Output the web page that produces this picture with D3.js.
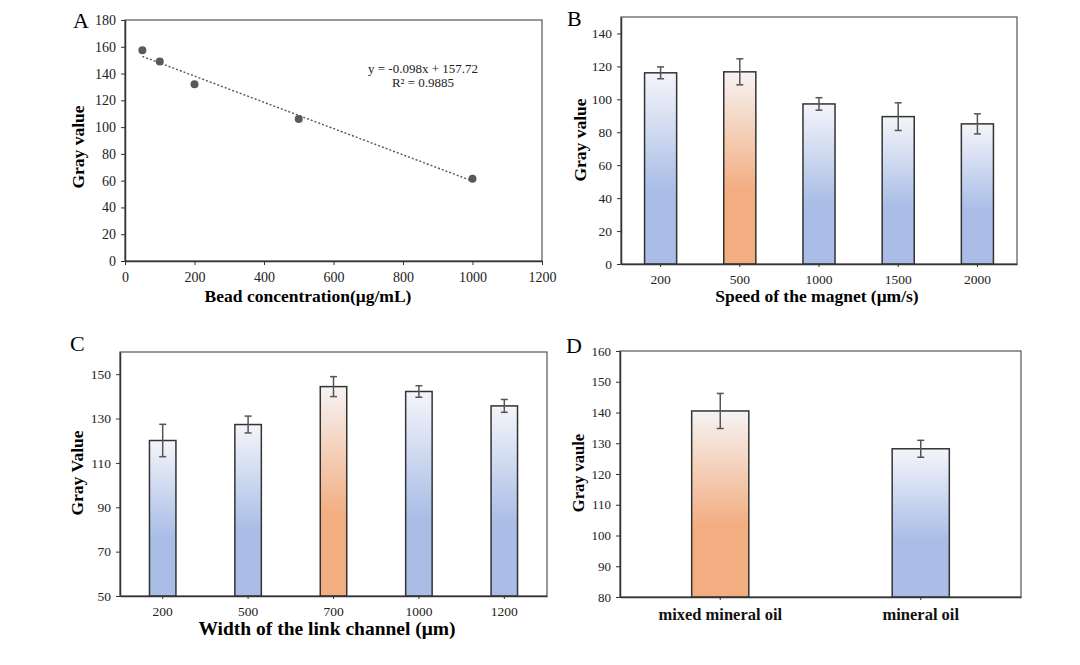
<!DOCTYPE html>
<html>
<head>
<meta charset="utf-8">
<script src="https://cdn.jsdelivr.net/npm/d3@7"></script>
<style>
  body { margin: 0; background: #fff; }
  text { font-family: "Liberation Serif", "Times New Roman", serif; }
</style>
</head>
<body>
<div id="chart"></div>
<script>
// Panel A: bead concentration scatter + linear fit
const beadConc = [50, 100, 200, 500, 1000];
const beadGray = [157.5, 149, 132, 106, 61.5];
const trendSlope = -0.098, trendIntercept = 157.72;
const trendLabel = "y = -0.098x + 157.72";
const r2Label = "R² = 0.9885";

// Panel B: magnet speed
const speedCats = ["200", "500", "1000", "1500", "2000"];
const speedGray = [116.1, 116.7, 97.2, 89.5, 85.1];
const speedErr = [3.6, 7.9, 3.8, 8.4, 6.1];
const speedHighlight = [false, true, false, false, false];

// Panel C: link channel width
const widthCats = ["200", "500", "700", "1000", "1200"];
const widthGray = [120.1, 127.3, 144.4, 142.2, 135.7];
const widthErr = [7.3, 3.8, 4.5, 2.6, 2.9];
const widthHighlight = [false, false, true, false, false];

// Panel D: oil type
const oilCats = ["mixed mineral oil", "mineral oil"];
const oilGray = [140.5, 128.2];
const oilErr = [5.7, 2.75];
const oilHighlight = [true, false];

const W = 1080, H = 665;
const svg = d3.select("#chart").append("svg")
  .attr("width", W).attr("height", H)
  .style("background", "#fff");

// gradients for bars
const defs = svg.append("defs");
function grad(id, top, mid) {
  const g = defs.append("linearGradient").attr("id", id)
    .attr("x1", 0).attr("y1", 0).attr("x2", 0).attr("y2", 1);
  g.append("stop").attr("offset", "0%").attr("stop-color", top);
  g.append("stop").attr("offset", "62%").attr("stop-color", mid);
  g.append("stop").attr("offset", "100%").attr("stop-color", mid);
}
grad("blueGrad", "#f4f5fa", "#a9bde6");
grad("orangeGrad", "#f6f3f3", "#f2ad80");

function frame(g, box) {
  g.append("rect")
    .attr("x", box.left).attr("y", box.top)
    .attr("width", box.right - box.left).attr("height", box.bottom - box.top)
    .attr("fill", "none").attr("stroke", "#555").attr("stroke-width", 1.2);
}

function styleAxis(sel, size) {
  sel.attr("font-size", size).attr("font-family", null);
  sel.selectAll("text").attr("font-size", size).attr("fill", "#222");
  sel.selectAll("line").attr("stroke", "#333");
  sel.select(".domain").attr("stroke", "#333").attr("stroke-width", 1.5);
}

// ---------- Panel A ----------
(function () {
  const box = { left: 125, top: 20, right: 542, bottom: 261 };
  const g = svg.append("g");
  const x = d3.scaleLinear().domain([0, 1200]).range([box.left, box.right]);
  const y = d3.scaleLinear().domain([0, 180]).range([box.bottom, box.top]);

  frame(g, box);

  g.append("g").attr("transform", `translate(0,${box.bottom})`)
    .call(d3.axisBottom(x).tickValues(d3.range(0, 1201, 200)).tickFormat(d3.format("d"))
      .tickSize(4).tickPadding(7).tickSizeOuter(0))
    .call(s => styleAxis(s, 14));
  g.append("g").attr("transform", `translate(${box.left},0)`)
    .call(d3.axisLeft(y).tickValues(d3.range(0, 181, 20)).tickSize(4).tickPadding(5).tickSizeOuter(0))
    .call(s => styleAxis(s, 14));

  // fit line
  const x0 = d3.min(beadConc), x1 = d3.max(beadConc);
  g.append("line")
    .attr("x1", x(x0)).attr("y1", y(trendSlope * x0 + trendIntercept))
    .attr("x2", x(x1)).attr("y2", y(trendSlope * x1 + trendIntercept))
    .attr("stroke", "#555").attr("stroke-width", 1.4).attr("stroke-dasharray", "2,2");

  g.selectAll("circle").data(beadConc).join("circle")
    .attr("cx", d => x(d)).attr("cy", (d, i) => y(beadGray[i]))
    .attr("r", 4).attr("fill", "#595959");

  g.append("text").attr("x", 423).attr("y", 73).attr("text-anchor", "middle")
    .attr("font-size", 13).attr("fill", "#222").text(trendLabel);
  g.append("text").attr("x", 423).attr("y", 87).attr("text-anchor", "middle")
    .attr("font-size", 13).attr("fill", "#222").text(r2Label);

  g.append("text").attr("x", 308).attr("y", 302).attr("text-anchor", "middle")
    .attr("font-size", 17.5).attr("font-weight", "bold").text("Bead concentration(μg/mL)");
  g.append("text").attr("transform", `translate(84,147) rotate(-90)`)
    .attr("text-anchor", "middle").attr("font-size", 17.5).attr("font-weight", "bold")
    .text("Gray value");
  g.append("text").attr("x", 73).attr("y", 28).attr("font-size", 22).text("A");
})();

// ---------- bar panel helper ----------
function barPanel(opt) {
  const box = opt.box;
  const g = svg.append("g");
  const x = d3.scaleBand().domain(opt.cats).range([box.left, box.right]).padding(0);
  const y = d3.scaleLinear().domain(opt.domain).range([box.bottom, box.top]);
  const bw = x.bandwidth() * opt.barFrac;

  frame(g, box);

  g.selectAll("rect.bar").data(opt.cats).join("rect")
    .attr("class", "bar")
    .attr("x", d => x(d) + (x.bandwidth() - bw) / 2)
    .attr("y", (d, i) => y(opt.values[i]))
    .attr("width", bw)
    .attr("height", (d, i) => y(opt.domain[0]) - y(opt.values[i]))
    .attr("fill", (d, i) => opt.highlight[i] ? "url(#orangeGrad)" : "url(#blueGrad)")
    .attr("stroke", "#333").attr("stroke-width", 1.5);

  const cap = 3.5;
  const eb = g.selectAll("g.err").data(opt.cats).join("g").attr("class", "err")
    .attr("stroke", "#555").attr("stroke-width", 1.5);
  eb.append("line")
    .attr("x1", d => x(d) + x.bandwidth() / 2).attr("x2", d => x(d) + x.bandwidth() / 2)
    .attr("y1", (d, i) => y(opt.values[i] + opt.err[i]))
    .attr("y2", (d, i) => y(opt.values[i] - opt.err[i]));
  [1, -1].forEach(sgn => {
    eb.append("line")
      .attr("x1", d => x(d) + x.bandwidth() / 2 - cap).attr("x2", d => x(d) + x.bandwidth() / 2 + cap)
      .attr("y1", (d, i) => y(opt.values[i] + sgn * opt.err[i]))
      .attr("y2", (d, i) => y(opt.values[i] + sgn * opt.err[i]));
  });

  const xa = g.append("g").attr("transform", `translate(0,${box.bottom})`)
    .call(d3.axisBottom(x).tickSize(3).tickPadding(opt.xPad).tickSizeOuter(0))
    .call(s => styleAxis(s, opt.xFont));
  if (opt.xBold) xa.selectAll("text").attr("font-weight", "bold").attr("fill", "#111");
  g.append("g").attr("transform", `translate(${box.left},0)`)
    .call(d3.axisLeft(y).tickValues(opt.ticks).tickSize(4).tickPadding(5).tickSizeOuter(0))
    .call(s => styleAxis(s, opt.yFont));

  if (opt.xTitle) {
    g.append("text").attr("x", opt.xTitle.x).attr("y", opt.xTitle.y).attr("text-anchor", "middle")
      .attr("font-size", opt.xTitle.size).attr("font-weight", "bold").text(opt.xTitle.text);
  }
  g.append("text").attr("transform", `translate(${opt.yTitle.x},${opt.yTitle.y}) rotate(-90)`)
    .attr("text-anchor", "middle").attr("font-size", opt.yTitle.size).attr("font-weight", "bold")
    .text(opt.yTitle.text);
  g.append("text").attr("x", opt.letter.x).attr("y", opt.letter.y).attr("font-size", 22).text(opt.letter.text);
}

// ---------- Panel B ----------
barPanel({
  box: { left: 621, top: 17, right: 1017, bottom: 264 },
  cats: speedCats, values: speedGray, err: speedErr, highlight: speedHighlight,
  domain: [0, 150], ticks: d3.range(0, 141, 20), barFrac: 0.405,
  xPad: 7, xFont: 13.5, yFont: 13.5,
  xTitle: { x: 817, y: 302, size: 17.5, text: "Speed of the magnet  (μm/s)" },
  yTitle: { x: 586, y: 140, size: 17.5, text: "Gray value" },
  letter: { x: 567, y: 26, text: "B" }
});

// ---------- Panel C ----------
barPanel({
  box: { left: 120, top: 352, right: 547, bottom: 596 },
  cats: widthCats, values: widthGray, err: widthErr, highlight: widthHighlight,
  domain: [50, 160], ticks: d3.range(50, 151, 20), barFrac: 0.31,
  xPad: 7, xFont: 13.5, yFont: 13.5,
  xTitle: { x: 327, y: 635, size: 19.5, text: "Width of the link channel (μm)" },
  yTitle: { x: 83, y: 473, size: 17.5, text: "Gray Value" },
  letter: { x: 70, y: 351, text: "C" }
});

// ---------- Panel D ----------
barPanel({
  box: { left: 620, top: 351, right: 1021, bottom: 597 },
  cats: oilCats, values: oilGray, err: oilErr, highlight: oilHighlight,
  domain: [80, 160], ticks: d3.range(80, 161, 10), barFrac: 0.285,
  xPad: 8, xFont: 16.5, yFont: 13, xBold: true,
  xTitle: null,
  yTitle: { x: 584, y: 473, size: 16.5, text: "Gray vaule" },
  letter: { x: 566, y: 353, text: "D" }
});
</script>
</body>
</html>
